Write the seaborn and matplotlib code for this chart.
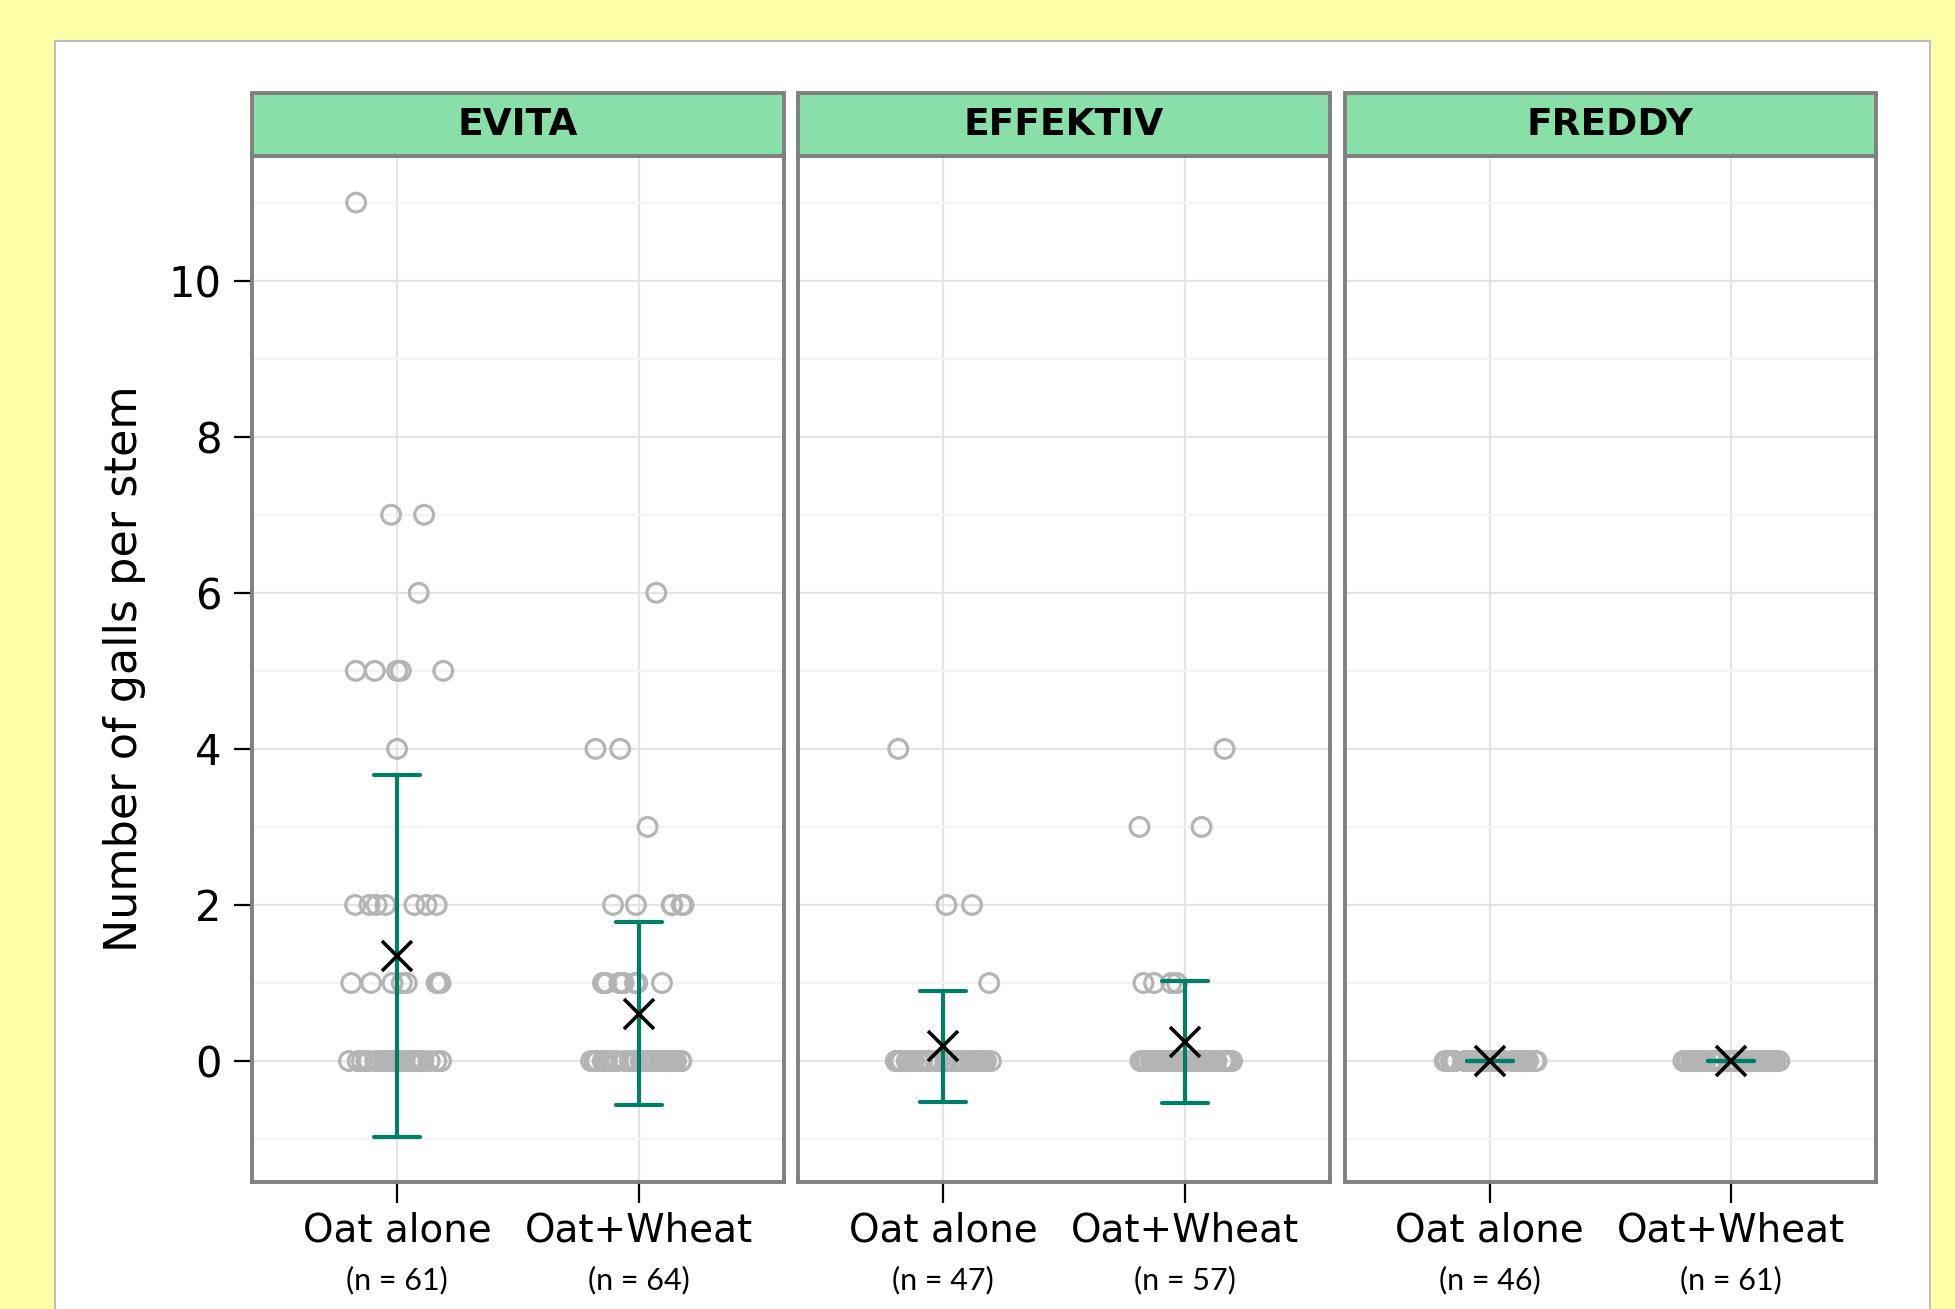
import numpy as np
import pandas as pd
import matplotlib
matplotlib.use("Agg")
import matplotlib.pyplot as plt
from matplotlib.patches import Rectangle
from matplotlib.ticker import MultipleLocator
import seaborn as sns

# ---------------- data ----------------
varieties = ["EVITA", "EFFEKTIV", "FREDDY"]
treatments = ["Oat alone", "Oat+Wheat"]
n_labels = {
    "EVITA": ["(n = 61)", "(n = 64)"],
    "EFFEKTIV": ["(n = 47)", "(n = 57)"],
    "FREDDY": ["(n = 46)", "(n = 61)"],
}

# galls-per-stem values and how many stems had each value
evita_oat_values = [11, 7, 6, 5, 4, 2, 1, 0]
evita_oat_counts = [1, 2, 1, 5, 1, 7, 8, 36]
evita_mix_values = [6, 4, 3, 2, 1, 0]
evita_mix_counts = [1, 2, 1, 6, 10, 44]
effektiv_oat_values = [4, 2, 1, 0]
effektiv_oat_counts = [1, 2, 1, 43]
effektiv_mix_values = [4, 3, 1, 0]
effektiv_mix_counts = [1, 2, 4, 50]
freddy_oat_values = [0]
freddy_oat_counts = [46]
freddy_mix_values = [0]
freddy_mix_counts = [61]

groups = [
    ("EVITA", "Oat alone", evita_oat_values, evita_oat_counts),
    ("EVITA", "Oat+Wheat", evita_mix_values, evita_mix_counts),
    ("EFFEKTIV", "Oat alone", effektiv_oat_values, effektiv_oat_counts),
    ("EFFEKTIV", "Oat+Wheat", effektiv_mix_values, effektiv_mix_counts),
    ("FREDDY", "Oat alone", freddy_oat_values, freddy_oat_counts),
    ("FREDDY", "Oat+Wheat", freddy_mix_values, freddy_mix_counts),
]
rows = []
for var, trt, vals, cnts in groups:
    for v, c in zip(vals, cnts):
        rows += [(var, trt, v)] * c
df = pd.DataFrame(rows, columns=["variety", "treatment", "galls"])

# ---------------- style ----------------
YELLOW = "#FFFFA8"
STRIP_GREEN = "#88DFA8"
FRAME = "#808080"
TEAL = "#007F66"
POINT_GRAY = "#B4B4B4"

sns.set_theme(style="white")
plt.rcParams["font.family"] = ["DejaVu Sans"]

W, H = 1955, 1309
fig, axes = plt.subplots(1, 3, figsize=(W / 100, H / 100), dpi=100, sharey=True)
fig.patch.set_facecolor(YELLOW)
fig.subplots_adjust(left=0.129, right=0.9596, bottom=0.097, top=0.881, wspace=0.028)

# white panel behind the plots
fig.patches.append(Rectangle((55 / W, -0.02), (1930 - 55) / W, 1 - 41 / H + 0.02,
                             transform=fig.transFigure, facecolor="white",
                             edgecolor="#BDBDBD", linewidth=1.5, zorder=-10))

np.random.seed(7)
strip_h = (0.9286 - 0.881) / (0.881 - 0.097)

for ax, var in zip(axes, varieties):
    sub = df[df["variety"] == var]
    ax.set_facecolor("white")
    sns.stripplot(data=sub, x="treatment", y="galls", order=treatments, ax=ax,
                  jitter=0.2, size=13.5, marker="o", color=POINT_GRAY, zorder=3)
    for coll in ax.collections:
        coll.set_facecolor("none")
        coll.set_edgecolor(POINT_GRAY)
        coll.set_linewidth(2.3)
    sns.pointplot(data=sub, x="treatment", y="galls", order=treatments, ax=ax,
                  estimator="mean", errorbar="sd", capsize=0.19,
                  linestyle="none", marker="x", markersize=21,
                  markeredgewidth=2.6, color="black",
                  err_kws={"color": TEAL, "linewidth": 3.0, "zorder": 4},
                  zorder=5)

    ax.set_xlim(-0.6, 1.6)
    ax.set_ylim(-1.55, 11.6)
    ax.yaxis.set_major_locator(MultipleLocator(2))
    ax.yaxis.set_minor_locator(MultipleLocator(1))
    ax.grid(which="major", axis="both", color="#E4E4E4", linewidth=1.6, zorder=0)
    ax.grid(which="minor", axis="y", color="#F3F3F3", linewidth=1.6, zorder=0)
    ax.set_axisbelow(True)

    for sp in ax.spines.values():
        sp.set_visible(True)
        sp.set_color(FRAME)
        sp.set_linewidth(2.8)

    ax.set_xlabel("")
    ax.set_ylabel("")
    ax.set_xticks([0, 1])
    ax.set_xticklabels(treatments, fontsize=28)
    ax.tick_params(axis="x", which="major", length=15, width=1.6, color="black",
                   pad=6, bottom=True, labelcolor="black")
    ax.tick_params(axis="y", which="major", length=13, width=1.6, color="black",
                   pad=9, left=(ax is axes[0]), labelsize=30, labelcolor="black")
    ax.tick_params(axis="y", which="minor", length=0, left=False)

    for i, lab in enumerate(n_labels[var]):
        ax.text(i, -0.0955, lab, transform=ax.get_xaxis_transform(),
                ha="center", va="center", fontsize=22, family=["Lato", "DejaVu Sans"],
                color="black")

    # facet header
    ax.add_patch(Rectangle((0, 1), 1, strip_h, transform=ax.transAxes,
                           facecolor=STRIP_GREEN, edgecolor=FRAME, linewidth=2.8,
                           clip_on=False, zorder=5))
    ax.text(0.5, 1 + strip_h / 2, var, transform=ax.transAxes, ha="center",
            va="center", fontsize=27, fontweight="bold", color="black", zorder=6)

fig.text(125 / W, 0.489, "Number of galls per stem", rotation=90, ha="center",
         va="center", fontsize=32, color="black")

fig.savefig("out.png", dpi=100, facecolor=fig.get_facecolor())
